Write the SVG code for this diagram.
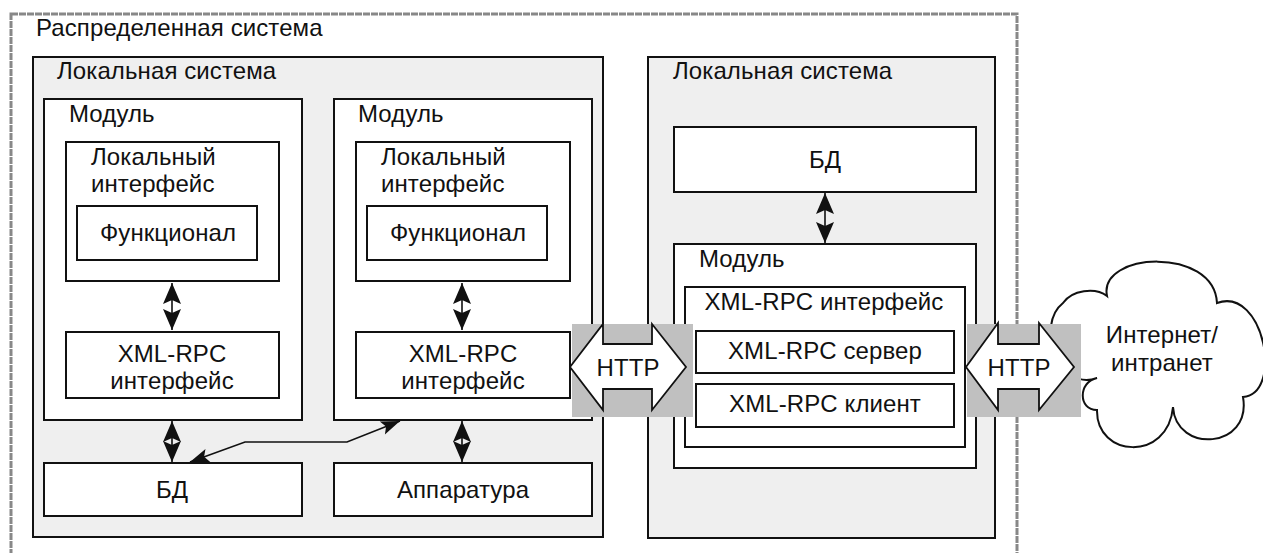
<svg xmlns="http://www.w3.org/2000/svg" width="1263" height="553" viewBox="0 0 1263 553">
<style>
text{font-family:"Liberation Sans",Arial,sans-serif;font-size:24px;letter-spacing:0.1px;fill:#111}
.c{text-anchor:middle}
.box{fill:#fff;stroke:#111;stroke-width:2}
.sys{fill:#efefef;stroke:#111;stroke-width:2}
.conn{fill:none;stroke:#111;stroke-width:1.6}
.http{fill:#c0c0c0}
.harrow{fill:#fff;stroke:#111;stroke-width:1.8;stroke-linejoin:miter}
</style>
<defs>
<marker id="ah" viewBox="-22 -10 24 20" refX="0" refY="0" markerWidth="24" markerHeight="20" markerUnits="userSpaceOnUse" orient="auto-start-reverse">
<path d="M0,0 L-21,-9 L-17,0 L-21,9 Z" fill="#111"/>
</marker>
<marker id="ahs" viewBox="-20 -8 22 16" refX="0" refY="0" markerWidth="22" markerHeight="16" markerUnits="userSpaceOnUse" orient="auto-start-reverse">
<path d="M0,0 L-19,-7 L-15,0 L-19,7 Z" fill="#111"/>
</marker>
</defs>
<rect width="1263" height="553" fill="#fff"/>

<g id="distributed-system">
<rect x="11" y="14" width="1006" height="545" fill="none" stroke="#888" stroke-width="3" stroke-dasharray="7 1"/>
<text x="36" y="36">Распределенная система</text>
</g>

<g id="local-system-left">
<rect class="sys" x="33" y="57" width="570" height="480"/>
<text x="57" y="79">Локальная система</text>
</g>

<g id="local-system-right">
<rect class="sys" x="648" y="57" width="347" height="481"/>
<text x="673" y="79">Локальная система</text>
</g>

<g id="module-1">
<rect class="box" x="44" y="99" width="258" height="321"/>
<text x="69" y="122">Модуль</text>
</g>
<g id="local-interface-1">
<rect class="box" x="66" y="142" width="213" height="139"/>
<text x="91" y="165">Локальный</text>
<text x="91" y="192">интерфейс</text>
</g>
<g id="functional-1">
<rect class="box" x="77" y="206" width="180" height="54"/>
<text class="c" x="168" y="241">Функционал</text>
</g>
<g id="xmlrpc-interface-1">
<rect class="box" x="66" y="332" width="213" height="66"/>
<text class="c" x="172" y="362">XML-RPC</text>
<text class="c" x="172" y="389">интерфейс</text>
</g>

<g id="module-2">
<rect class="box" x="334" y="99" width="258" height="321"/>
<text x="358" y="122">Модуль</text>
</g>
<g id="local-interface-2">
<rect class="box" x="356" y="142" width="214" height="139"/>
<text x="381" y="165">Локальный</text>
<text x="381" y="192">интерфейс</text>
</g>
<g id="functional-2">
<rect class="box" x="367" y="206" width="180" height="54"/>
<text class="c" x="458" y="241">Функционал</text>
</g>
<g id="xmlrpc-interface-2">
<rect class="box" x="356" y="332" width="214" height="66"/>
<text class="c" x="463" y="362">XML-RPC</text>
<text class="c" x="463" y="389">интерфейс</text>
</g>

<g id="db-left">
<rect class="box" x="44" y="463" width="258" height="53"/>
<text class="c" x="172" y="498">БД</text>
</g>
<g id="hardware">
<rect class="box" x="334" y="463" width="258" height="53"/>
<text class="c" x="463" y="498">Аппаратура</text>
</g>

<g id="db-right">
<rect class="box" x="674" y="127" width="302" height="65"/>
<text class="c" x="825" y="168">БД</text>
</g>
<g id="module-right">
<rect class="box" x="674" y="244" width="302" height="224"/>
<text x="699" y="267">Модуль</text>
</g>
<g id="xmlrpc-interface-right">
<rect class="box" x="685" y="287" width="280" height="160"/>
<text class="c" x="824" y="310">XML-RPC интерфейс</text>
</g>
<g id="xmlrpc-server">
<rect class="box" x="696" y="331" width="258" height="42"/>
<text class="c" x="825" y="359">XML-RPC сервер</text>
</g>
<g id="xmlrpc-client">
<rect class="box" x="696" y="384" width="258" height="43"/>
<text class="c" x="825" y="412">XML-RPC клиент</text>
</g>

<g id="internet">
<path d="M1097,378 C1058,392 1035,325 1063,303 C1072,290 1095,287 1107,296 C1098,252 1214,246 1217,303 C1264,286 1284,394 1243,397 C1252,449 1176,454 1173,407 C1168,462 1096,458 1097,410 C1078,410 1078,382 1097,378 Z" fill="#fff" stroke="#111" stroke-width="2"/>
<text class="c" x="1162" y="343">Интернет/</text>
<text class="c" x="1162" y="371">интранет</text>
</g>

<g id="connectors">
<line class="conn" x1="172" y1="283" x2="172" y2="330" marker-start="url(#ah)" marker-end="url(#ah)"/>
<line class="conn" x1="462" y1="283" x2="462" y2="330" marker-start="url(#ah)" marker-end="url(#ah)"/>
<line class="conn" x1="172" y1="421" x2="172" y2="462" marker-start="url(#ah)" marker-end="url(#ah)"/>
<line class="conn" x1="462" y1="421" x2="462" y2="462" marker-start="url(#ah)" marker-end="url(#ah)"/>
<line class="conn" x1="825" y1="193" x2="825" y2="243" marker-start="url(#ah)" marker-end="url(#ah)"/>
<polyline class="conn" points="190,462 245,442 347,442 400,421" marker-start="url(#ahs)" marker-end="url(#ahs)"/>
</g>

<g id="http-left">
<rect class="http" x="572" y="324" width="121" height="93"/>
<path class="harrow" d="M570,367 L603,324 L603,344 L652,344 L652,324 L686,367 L652,410 L652,389 L603,389 L603,410 Z"/>
<text class="c" x="628" y="376">HTTP</text>
</g>
<g id="http-right">
<rect class="http" x="967" y="324" width="114" height="93"/>
<path class="harrow" d="M966,367 L998,323 L998,344 L1039,344 L1039,323 L1074,367 L1039,410 L1039,389 L998,389 L998,410 Z"/>
<text class="c" x="1019" y="376">HTTP</text>
</g>
</svg>
